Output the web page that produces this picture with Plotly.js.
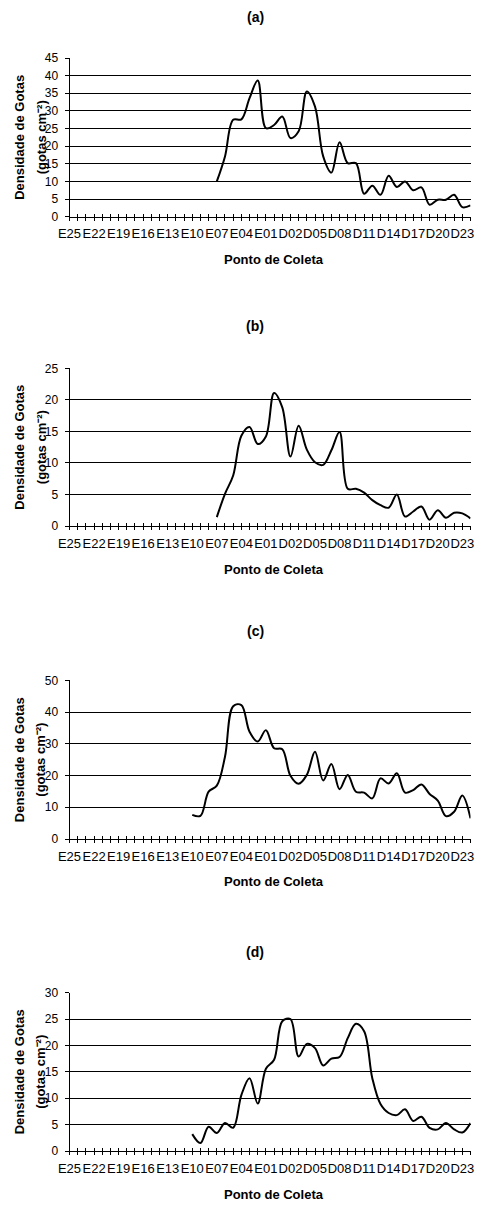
<!DOCTYPE html>
<html>
<head>
<meta charset="utf-8">
<script src="https://cdn.plot.ly/plotly-3.0.1.min.js"></script>
<style>
html,body{margin:0;padding:0;background:#fff;}
#chart{width:477px;height:1205px;}
</style>
</head>
<body>
<div id="chart"></div>
<script>
// Categories: E25..E01, D00..D24
var categories = [
  "E25","E24","E23","E22","E21","E20","E19","E18","E17","E16","E15","E14","E13",
  "E12","E11","E10","E09","E08","E07","E06","E05","E04","E03","E02","E01",
  "D00","D01","D02","D03","D04","D05","D06","D07","D08","D09","D10","D11","D12",
  "D13","D14","D15","D16","D17","D18","D19","D20","D21","D22","D23","D24"
];
var tickLabels = ["E25","E22","E19","E16","E13","E10","E07","E04","E01",
  "D02","D05","D08","D11","D14","D17","D20","D23"];

var seriesA = [null,null,null,null,null,null,null,null,null,null,null,null,null,null,null,null,null,null,
  10, 17.1, 27.5, 27.6, 33.6, 38.6, 25.1, 26, 28.4, 22.3, 24.2, 35.5, 31.2, 17.1, 12.5, 21.1,
  15.2, 15.2, 6.5, 8.8, 6.2, 11.6, 8.4, 10, 7.5, 8.3, 3.4, 4.8, 4.8, 6.2, 2.7, 3.2];
var seriesB = [null,null,null,null,null,null,null,null,null,null,null,null,null,null,null,null,null,null,
  1.4, 5.1, 8.0, 14.3, 15.7, 13.0, 14.2, 21.1, 18.8, 11.0, 15.9, 12.1, 10.1, 9.7, 12.0, 14.9,
  5.9, 5.9, 5.3, 4.1, 3.3, 2.9, 5.0, 1.5, 2.3, 3.1, 1.0, 2.5, 1.3, 2.1, 2.0, 1.2];
var seriesC = [null,null,null,null,null,null,null,null,null,null,null,null,null,null,null,
  7.6, 7.3, 14.9, 16.8, 25.9, 41.8, 42.2, 33.8, 30.7, 34.3, 28.6, 28.3, 19.9, 17.4, 20.2,
  27.5, 18.4, 23.6, 15.7, 20.2, 14.9, 14.6, 12.8, 19.1, 17.5, 20.7, 14.6, 15.4, 17.2, 14.2,
  12.1, 7.2, 8.6, 13.7, 6.5];
var seriesD = [null,null,null,null,null,null,null,null,null,null,null,null,null,null,null,
  3.2, 1.5, 4.6, 3.4, 5.3, 4.4, 10.6, 13.8, 9.0, 15.6, 17.3, 24.6, 25.0, 17.9, 20.3,
  19.5, 16.2, 17.5, 17.8, 21.4, 24.1, 22.7, 13.8, 8.9, 7.2, 6.8, 7.9, 5.7, 6.5, 4.4,
  4.1, 5.3, 4.1, 3.5, 5.3];

var panelTitles = ["(a)","(b)","(c)","(d)"];
var yMax = [45, 25, 50, 30];
var yStep = [5, 5, 10, 5];
var allSeries = [seriesA, seriesB, seriesC, seriesD];

var W = 477, H = 1205;
var FONT = '"Liberation Sans", Arial, Helvetica, sans-serif';
var plotTop = [58, 368.3, 680.3, 992.7];
var plotBot = [216.7, 526, 839, 1151];
var titleY = [17, 326, 631, 952];
var xTitleY = [259, 569.5, 881, 1194];
var xL = 69.5, xR = 470.5;

var data = [];
var layout = {
  width: W, height: H,
  margin: {l:0, r:0, t:0, b:0},
  paper_bgcolor: '#fff', plot_bgcolor: '#fff',
  showlegend: false,
  font: {family: FONT, color: '#000'},
  annotations: []
};

function py(p){ return (H - p) / H; }
function px(p){ return p / W; }

for (var k = 0; k < 4; k++) {
  var n = k + 1;
  var xs = n === 1 ? '' : n;
  var ovOut = 4 + 2 * k + 1;
  var ovIn = 4 + 2 * k + 2;
  data.push({
    type: 'scatter', mode: 'lines',
    x: categories, y: allSeries[k],
    xaxis: 'x' + xs, yaxis: 'y' + xs,
    line: {color: '#000', width: 2, shape: 'spline', smoothing: 1},
    connectgaps: false,
    hoverinfo: 'x+y'
  });
  data.push({type: 'scatter', mode: 'lines', x: [], y: [],
    xaxis: 'x' + ovOut, yaxis: 'y' + xs, hoverinfo: 'skip'});
  data.push({type: 'scatter', mode: 'lines', x: [], y: [],
    xaxis: 'x' + ovIn, yaxis: 'y' + xs, hoverinfo: 'skip'});
  var dom = [px(xL), px(xR)];
  layout['xaxis' + xs] = {
    type: 'category',
    categoryorder: 'array', categoryarray: categories,
    range: [0, categories.length - 1],
    domain: dom,
    anchor: 'y' + xs,
    tickmode: 'array', tickvals: tickLabels, ticktext: tickLabels,
    ticks: 'outside', ticklen: 3, tickwidth: 1, tickcolor: '#000',
    tickangle: 0,
    ticklabelstandoff: 2,
    tickfont: {family: FONT, size: 13, color: '#000'},
    showline: true, linecolor: '#000', linewidth: 1,
    showgrid: false, zeroline: false, fixedrange: true
  };
  var tickAxis = function(side) {
    return {
      type: 'linear',
      overlaying: 'x' + xs,
      anchor: 'y' + xs,
      range: [0, categories.length - 1],
      tickmode: 'linear', tick0: 0, dtick: 1,
      ticks: side, ticklen: 3, tickwidth: 1, tickcolor: '#000',
      showticklabels: false, showline: false, showgrid: false, zeroline: false,
      fixedrange: true
    };
  };
  layout['xaxis' + ovOut] = tickAxis('outside');
  layout['xaxis' + ovIn] = tickAxis('inside');
  layout['yaxis' + xs] = {
    domain: [py(plotBot[k]), py(plotTop[k])],
    anchor: 'x' + xs,
    range: [0, yMax[k]],
    tickmode: 'linear', tick0: 0, dtick: yStep[k],
    ticks: 'outside', ticklen: 4, tickwidth: 1, tickcolor: '#000',
    ticklabelstandoff: 4,
    tickfont: {family: FONT, size: 12, color: '#000'},
    showline: true, linecolor: '#000', linewidth: 1,
    showgrid: true, gridcolor: '#000', gridwidth: 1,
    zeroline: false, fixedrange: true
  };
  var midY = (plotTop[k] + plotBot[k]) / 2;
  layout.annotations.push({
    xref: 'paper', yref: 'paper', x: px(255), y: py(titleY[k]),
    xanchor: 'center', yanchor: 'middle', showarrow: false,
    text: '<b>' + panelTitles[k] + '</b>',
    font: {family: FONT, size: 14, color: '#000'}
  });
  layout.annotations.push({
    xref: 'paper', yref: 'paper', x: px(274), y: py(xTitleY[k]),
    xanchor: 'center', yanchor: 'middle', showarrow: false,
    text: '<b>Ponto de Coleta</b>',
    font: {family: FONT, size: 13, color: '#000'}
  });
  layout.annotations.push({
    xref: 'paper', yref: 'paper', x: px(19.5), y: py(midY),
    xanchor: 'center', yanchor: 'middle', showarrow: false, textangle: -90,
    text: '<b>Densidade de Gotas</b>',
    font: {family: FONT, size: 13, color: '#000'}
  });
  layout.annotations.push({
    xref: 'paper', yref: 'paper', x: px(41), y: py(midY),
    xanchor: 'center', yanchor: 'middle', showarrow: false, textangle: -90,
    text: '<b>(gotas cm\u207B\u00B2)</b>',
    font: {family: FONT, size: 13, color: '#000'}
  });
}

Plotly.newPlot('chart', data, layout, {staticPlot: true, displayModeBar: false});
</script>
</body>
</html>
